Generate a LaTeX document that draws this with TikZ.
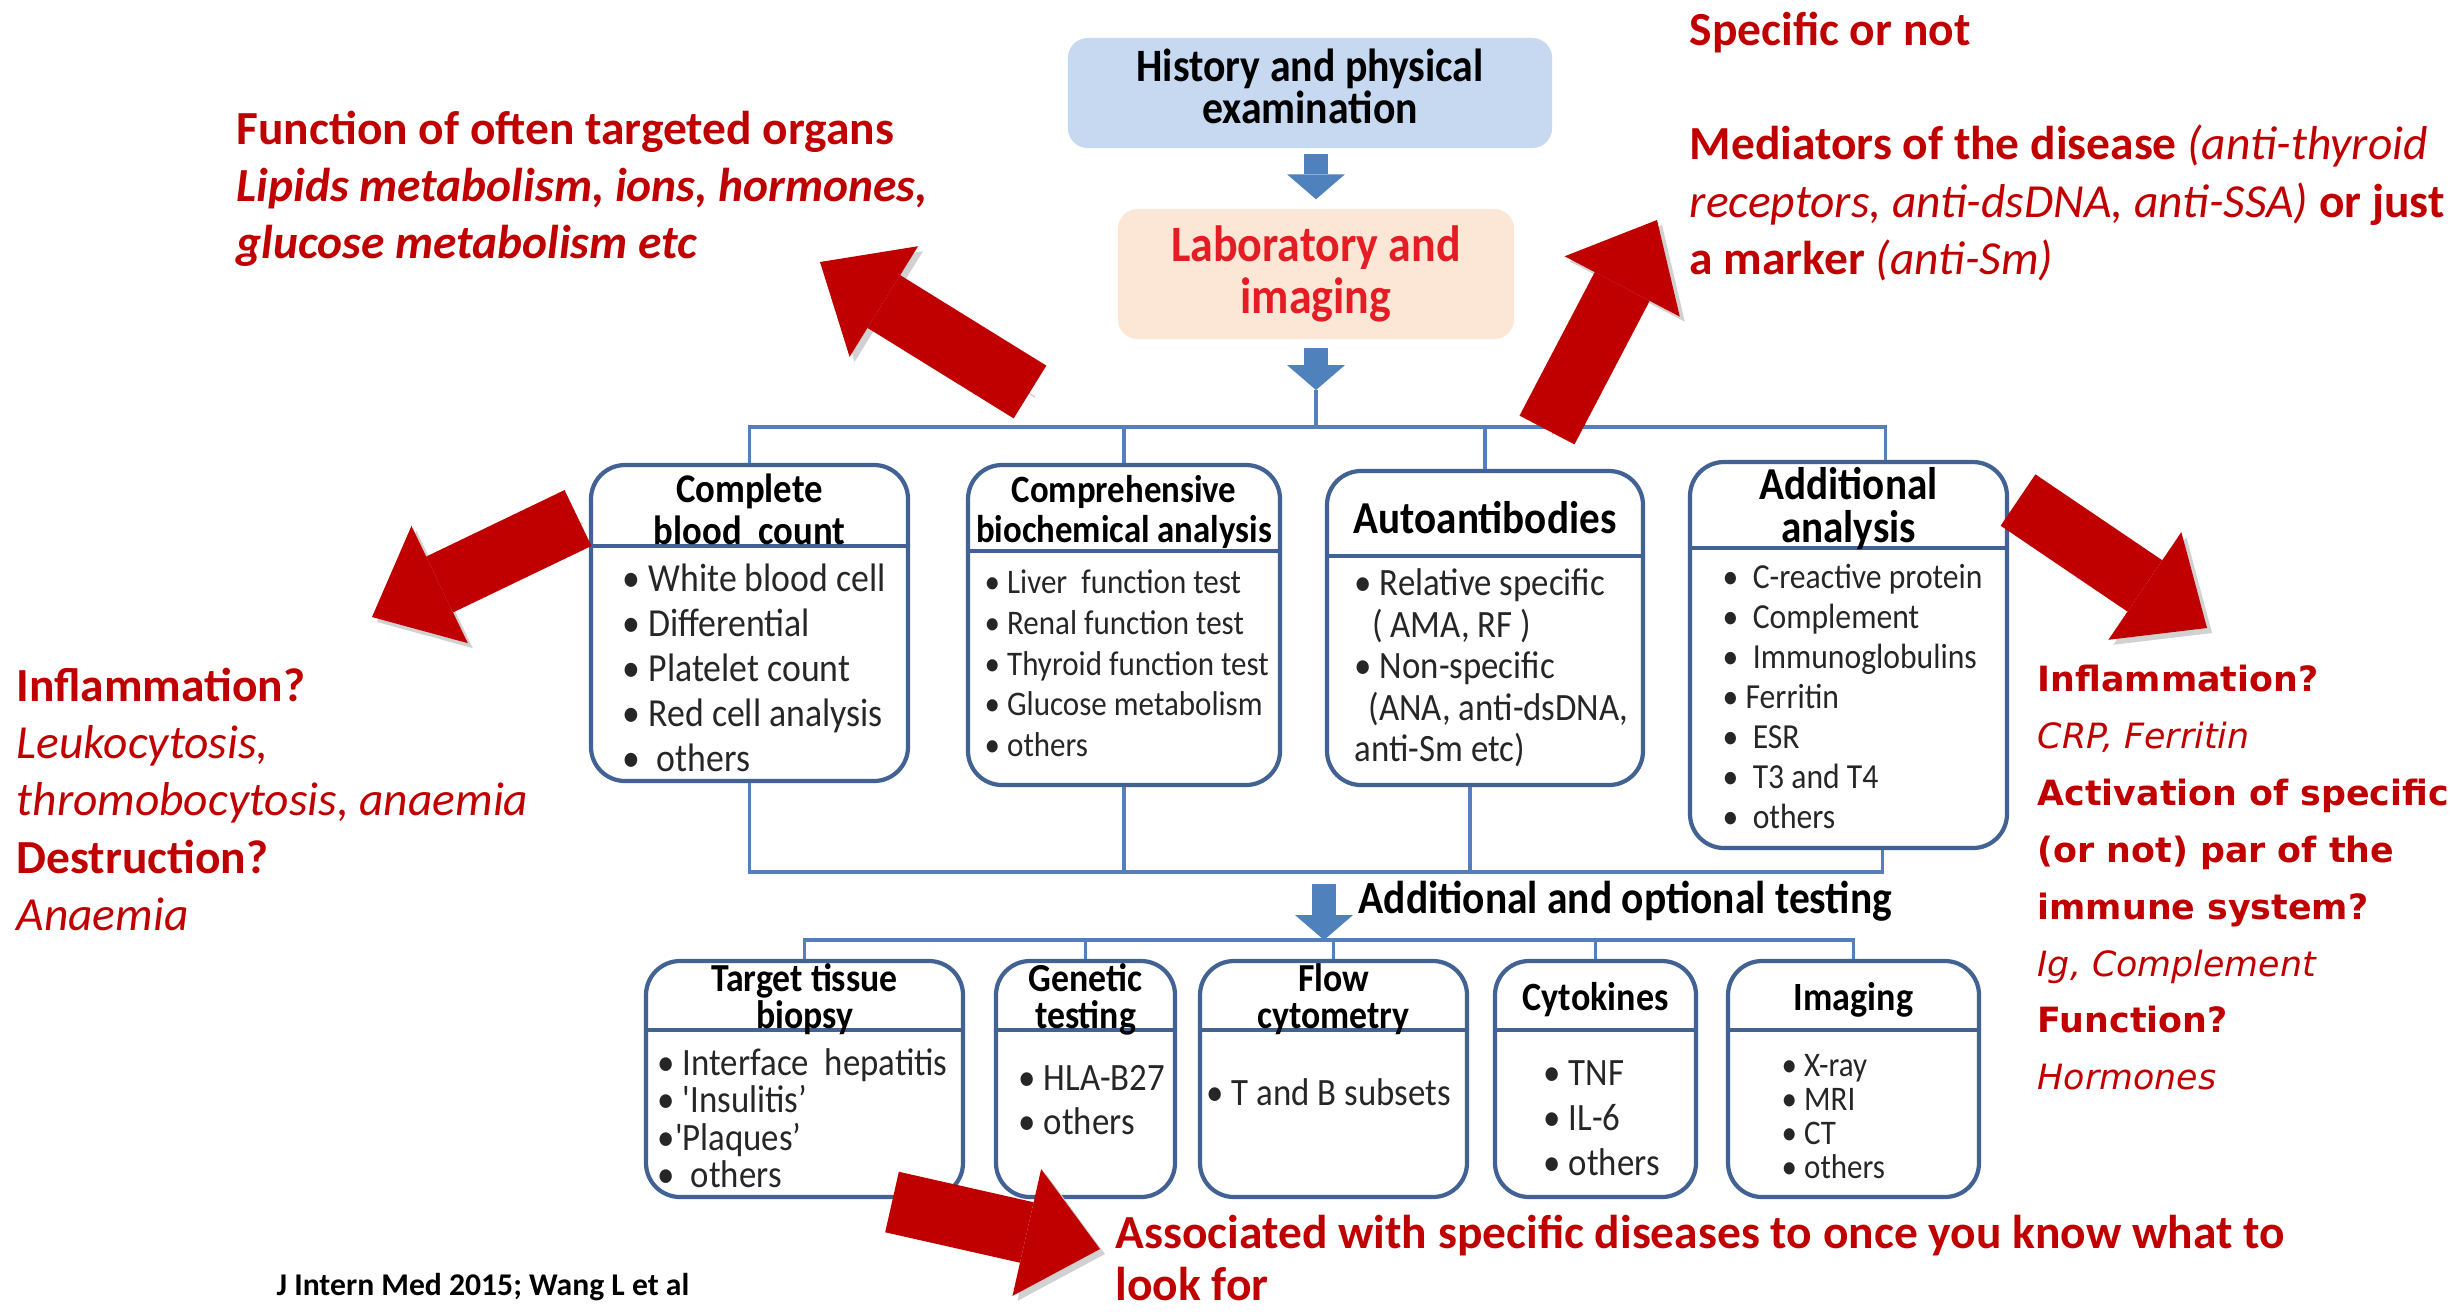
\documentclass[tikz,border=0pt]{standalone}
\usepackage{fontspec}
\setmainfont{Carlito}
\newfontfamily\figfont[FakeStretch=0.9]{Carlito}
\newfontfamily\verdfont{DejaVu Sans}
\usetikzlibrary{arrows.meta,positioning,fit,calc}
\definecolor{cardblue}{RGB}{66,98,148}
\definecolor{busblue}{RGB}{84,126,188}
\definecolor{arrowblue}{RGB}{79,129,189}
\definecolor{hpefill}{RGB}{198,217,240}
\definecolor{labfill}{RGB}{252,230,214}
\definecolor{labred}{RGB}{228,28,36}
\definecolor{darkred}{RGB}{192,0,0}

% card with a header strip: name, corner, corner, header height, header font, header
\newcommand{\testcard}[6]{%
  \node[card,fit={#2 #3}] (#1) {};
  \coordinate (#1-cut) at ($(#1.north west)+(0,#4)$);
  \draw[cardline] (#1-cut) -- (#1-cut -| #1.east);
  \node[head,font=\figfont\bfseries#5] (#1-head) at ($(#1.north)!0.5!(#1-cut -| #1.north)$) {#6};}

\begin{document}
\begin{tikzpicture}[x=0.01cm,y=-0.01cm,
    card/.style={draw=cardblue,line width=1.2pt,rounded corners=0.34cm,fill=white,inner sep=0pt},
    cardline/.style={draw=cardblue,line width=1.2pt},
    head/.style={align=center,inner sep=0pt,yshift=-0.05cm},
    list/.style={align=left,text=black!85,inner sep=0pt,anchor=north west},
    topbox/.style={rounded corners=0.2cm,inner sep=0pt,align=center},
    bus/.style={draw=busblue,line width=1pt},
    bluearrow/.style={draw=arrowblue,line width=0.24cm,-{Triangle[width=0.58cm,length=0.25cm,line width=0pt]}},
    redarrow/.style={draw=darkred,line width=0.62cm,-{Triangle[width=1.3cm,length=0.75cm,line width=0pt]},
        preaction={draw=black!18,transform canvas={xshift=0.05cm,yshift=-0.05cm}}},
    note/.style={text=darkred,align=left,inner sep=0pt,anchor=north west}]

    \fill[white] (0,0) rectangle (2463,1314);
    \useasboundingbox (0,0) rectangle (2463,1314);

    \node[topbox,fill=hpefill,minimum width=4.84cm,minimum height=1.1cm,font=\figfont\bfseries\fontsize{13.2}{12}\selectfont] (hpe) at (1310,93) {History and physical\\examination\rule[-4pt]{0pt}{0pt}};
    \node[topbox,fill=labfill,minimum width=3.96cm,minimum height=1.3cm,text=labred,font=\figfont\bfseries\fontsize{14.5}{15}\selectfont] (lab) at (1316,274) {Laboratory and\\imaging};
    \draw[bluearrow,shorten <=0.05cm,shorten >=0.09cm] (hpe.south -| lab.north) -- (lab.north);
    \coordinate (split) at (1316,390);
    \coordinate (hub) at (1316,427);
    \draw[bluearrow,shorten <=0.08cm] (lab.south) -- (split);
    \draw[bus] (split) -- (hub);

    % first round of tests
    \testcard{cbc}{(591,465)}{(908,781)}{83}{\fontsize{11.6}{12}\selectfont}{Complete\\blood\ \ count}
    \testcard{cbp}{(968,465)}{(1280,785)}{88}{\fontsize{11}{11.6}\selectfont}{Comprehensive\\biochemical analysis}
    \testcard{aab}{(1327,471)}{(1643,785)}{87}{\fontsize{13}{13}\selectfont}{Autoantibodies}
    \testcard{add}{(1690,462)}{(2007,848)}{88}{\fontsize{13}{12.2}\selectfont}{Additional\\analysis}

    \node[list,font=\figfont\fontsize{11.3}{12.8}\selectfont] (cbc-list) at (622,563) {• White blood cell\\• Differential\\• Platelet count\\• Red cell analysis\\•\ \ others};
    \node[list,font=\figfont\fontsize{9.8}{11.6}\selectfont] (cbp-list) at (984,569) {• Liver\ \ function test\\• Renal function test\\• Thyroid function test\\• Glucose metabolism\\• others};
    \node[list,font=\figfont\fontsize{11}{11.8}\selectfont] (aab-list) at (1354,568) {• Relative specific\\\hspace{5pt}( AMA, RF )\\• Non-specific\\\hspace{4pt}(ANA, anti-dsDNA,\\anti-Sm etc)};
    \node[list,font=\figfont\fontsize{10}{11.4}\selectfont] (add-list) at (1722,563) {•\ \ C-reactive protein\\•\ \ Complement\\•\ \ Immunoglobulins\\• Ferritin\\•\ \ ESR\\•\ \ T3 and T4\\•\ \ others};

    \coordinate (add-drop) at ($(add.north)+(37,0)$);
    \draw[bus] (cbc.north) |- (hub) -| (add-drop);
    \draw[bus] (cbp.north) -- (cbp.north |- hub);
    \draw[bus] (aab.north) -- (aab.north |- hub);

    % gathering line and optional tests
    \coordinate (join) at (1316,872);
    \coordinate (add-foot) at ($(add.south)+(34,0)$);
    \coordinate (aab-foot) at ($(aab.south)+(-15,0)$);
    \draw[bus] (cbc.south) |- (join) -| (add-foot);
    \draw[bus] (cbp.south) -- (cbp.south |- join);
    \draw[bus] (aab-foot) -- (aab-foot |- join);

    \coordinate (opt-start) at (1324,884);
    \coordinate (hub2) at (1324,940);
    \draw[bluearrow] (opt-start) -- (hub2);
    \node[anchor=west,inner sep=0pt,font=\figfont\bfseries\fontsize{13.1}{14}\selectfont] (optlabel) at (1358,901) {Additional and optional testing};

    \testcard{ttb}{(646,961)}{(963,1197)}{71}{\fontsize{11.3}{10.5}\selectfont}{Target tissue\\biopsy}
    \testcard{gen}{(996,961)}{(1175,1197)}{71}{\fontsize{11.3}{10.5}\selectfont}{Genetic\\testing}
    \testcard{flow}{(1200,961)}{(1467,1197)}{71}{\fontsize{11.3}{10.5}\selectfont}{Flow\\cytometry}
    \testcard{cyt}{(1495,961)}{(1696,1197)}{71}{\fontsize{11.4}{11}\selectfont}{Cytokines}
    \testcard{img}{(1728,961)}{(1979,1197)}{71}{\fontsize{11.4}{11}\selectfont}{Imaging}

    \draw[bus] (ttb.north) |- (hub2) -| (img.north);
    \foreach \n in {gen,flow,cyt}
        \draw[bus] (\n.north) -- (\n.north |- hub2);

    \node[list,font=\figfont\fontsize{11}{10.6}\selectfont] (ttb-list) at (657,1048) {• Interface\ \ hepatitis\\• 'Insulitis’\\•'Plaques’\\•\ \ others};
    \node[list,font=\figfont\fontsize{11}{12.5}\selectfont] (gen-list) at (1018,1065) {• HLA-B27\\• others};
    \node[list,font=\figfont\fontsize{11}{12.5}\selectfont] (flow-list) at (1206,1078) {• T and B subsets};
    \node[list,font=\figfont\fontsize{11}{12.8}\selectfont] (cyt-list) at (1543,1060) {• TNF\\• IL-6\\• others};
    \node[list,font=\figfont\fontsize{9.8}{9.6}\selectfont] (img-list) at (1781,1054) {• X-ray\\• MRI\\• CT\\• others};

    % comments on the slide
    \node[note,font=\bfseries\fontsize{13.5}{16.3}\selectfont] (organs) at (236,110) {Function of often targeted organs\\\textit{Lipids metabolism, ions, hormones,}\\\textit{glucose metabolism etc}};
    \node[note,font=\bfseries\fontsize{13.5}{16.3}\selectfont] (markers) at (1689,11) {Specific or not\\[16.3pt]Mediators of the disease \textmd{\textit{(anti-thyroid}}\\\textmd{\textit{receptors, anti-dsDNA, anti-SSA)}} or just\\a marker \textmd{\textit{(anti-Sm)}}};
    \node[note,font=\fontsize{13.5}{16.3}\selectfont] (blood) at (16,667) {\textbf{Inflammation?}\\\textit{Leukocytosis,}\\\textit{thromobocytosis, anaemia}\\\textbf{Destruction?}\\\textit{Anaemia}};
    \node[note,font=\verdfont\fontsize{9.9}{16.2}\selectfont] (immune) at (2037,664) {\textbf{Inflammation?}\\\textit{CRP, Ferritin}\\\textbf{Activation of specific}\\\textbf{(or not) par of the}\\\textbf{immune system?}\\\textit{Ig, Complement}\\\textbf{Function?}\\\textit{Hormones}};
    \node[note,font=\bfseries\fontsize{13.5}{14.8}\selectfont] (assoc) at (1115,1214) {Associated with specific diseases to once you know what to\\look for};
    \node[anchor=west,inner sep=0pt,font=\bfseries\fontsize{9}{11}\selectfont] (cite) at (276,1287) {J Intern Med 2015; Wang L et al};

    % red pointers
    \coordinate (a1-tail) at (1030,392);  \coordinate (a1-tip) at (820,262);
    \coordinate (a2-tail) at (1547,430);  \coordinate (a2-tip) at (1657,220);
    \coordinate (a3-tail) at (578,518);   \coordinate (a3-tip) at (372,617);
    \coordinate (a4-tail) at (2018,500);  \coordinate (a4-tip) at (2207,628);
    \coordinate (a5-tail) at (892,1202);  \coordinate (a5-tip) at (1100,1249);
    \foreach \a in {a1,a2,a3,a4,a5}
        \draw[redarrow] (\a-tail) -- (\a-tip);
\end{tikzpicture}
\end{document}
